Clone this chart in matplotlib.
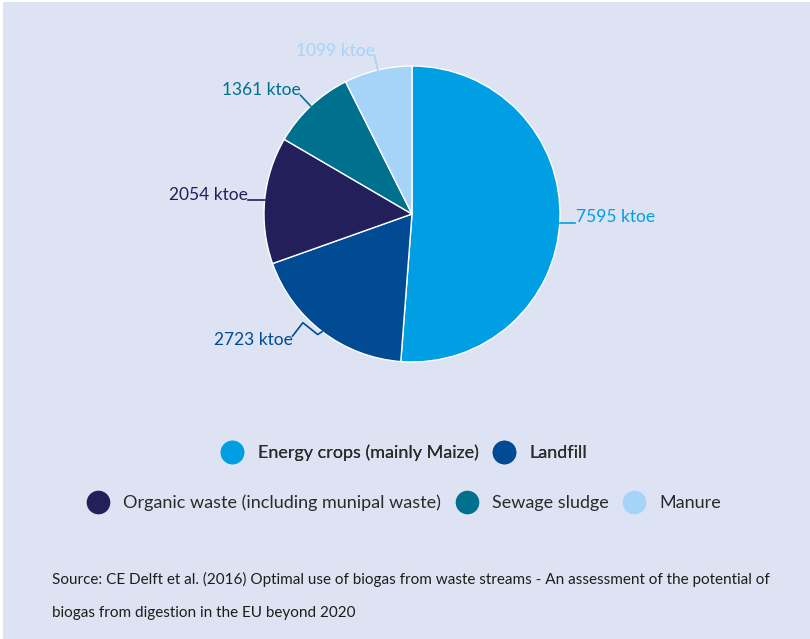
import matplotlib
matplotlib.use("Agg")
import matplotlib.pyplot as plt
from matplotlib.lines import Line2D
import numpy as np

categories = ["Energy crops (mainly Maize)", "Landfill",
              "Organic waste (including munipal waste)", "Sewage sludge", "Manure"]
values = [7595, 2723, 2054, 1361, 1099]
colors = ["#009fe3", "#004b93", "#221f5a", "#00708f", "#a6d3f8"]
unit = "ktoe"
source = ("Source: CE Delft et al. (2016) Optimal use of biogas from waste streams - An assessment of the potential of\n"
          "biogas from digestion in the EU beyond 2020")

BG = "#dde3f2"
FONT = ["Lato", "DejaVu Sans"]
plt.rcParams['font.family'] = FONT

W, H = 810, 639
fig = plt.figure(figsize=(W / 100, H / 100), dpi=100)
fig.patch.set_facecolor(BG)

# pie axes: center (412, 214) px, radius 148 px
cx, cy, R = 412, 214, 148
side = 2 * R * 1.6
ax = fig.add_axes([(cx - side / 2) / W, 1 - (cy + side / 2) / H, side / W, side / H])
ax.set_facecolor("none")
ax.axis("off")
wedges, _ = ax.pie(values, colors=colors, startangle=90, counterclock=False,
                   radius=1.0, wedgeprops=dict(edgecolor="white", linewidth=1.0))
lim = 1.6
ax.set_xlim(-lim, lim)
ax.set_ylim(-lim, lim)
ax.set_aspect("equal")

for w, v, c in zip(wedges, values, colors):
    ang = np.deg2rad((w.theta1 + w.theta2) / 2)
    ex, ey = np.cos(ang), np.sin(ang)
    lbl = f"{v} {unit}"
    if ex > 0.5:
        # right side: short horizontal leader at text baseline
        pts = [(ex, ey - 0.02), (ex + 0.10, ey - 0.02)]
        tx, ty, ha, va = ex + 0.11, ey + 0.02, "left", "center"
    elif ey < -0.5:
        # lower-left: zigzag leader
        pts = [(ex, ey), (ex - 0.03, ey - 0.02), (ex - 0.13, ey + 0.06), (ex - 0.20, ey - 0.03)]
        tx, ty, ha, va = ex - 0.20, ey - 0.06, "right", "center"
    else:
        bx, by = 1.1 * ex, 1.1 * ey
        if abs(ey) < 0.3:
            pts = [(ex, ey), (ex - 0.11, ey)]
            tx, ty, ha, va = ex - 0.11, ey - 0.02, "right", "bottom"
        else:
            pts = [(ex, ey), (bx, by)]
            tx, ty, ha, va = bx, by - 0.02, "right", "bottom"
    xs, ys = zip(*pts)
    ax.plot(xs, ys, color=c, lw=1.2, clip_on=False)
    ax.text(tx, ty, lbl, color=c, ha=ha, va=va, fontsize=12.5, clip_on=False)

# legend: two rows
def handles(idx):
    return [Line2D([], [], marker="o", linestyle="none", markersize=16,
                   markerfacecolor=colors[i], markeredgecolor=colors[i]) for i in idx]

row1 = [0, 1]
row2 = [2, 3, 4]
leg_kw = dict(frameon=False, fontsize=13, handletextpad=0.9, columnspacing=0.9,
              handlelength=1.0, borderaxespad=0, labelcolor="#2a2a2a")
leg1 = fig.legend(handles(row1), [categories[i] for i in row1], ncol=2,
                  loc="center", bbox_to_anchor=(0.5, 1 - 453 / H), **leg_kw)
leg2 = fig.legend(handles(row2), [categories[i] for i in row2], ncol=3,
                  loc="center", bbox_to_anchor=(0.5, 1 - 503 / H), **leg_kw)
fig.add_artist(leg1)

fig.text(52 / W, 1 - 572 / H, source, fontsize=11, color="#1d1d1b",
         ha="left", va="top", linespacing=2.75)

# thin white frame on top and left edges
fig.add_artist(plt.Rectangle((0, 1 - 2 / H), 1, 2 / H, transform=fig.transFigure,
                             color="white", lw=0))
fig.add_artist(plt.Rectangle((0, 0), 3 / W, 1, transform=fig.transFigure,
                             color="white", lw=0))

fig.savefig("out.png", dpi=100, facecolor=BG)
